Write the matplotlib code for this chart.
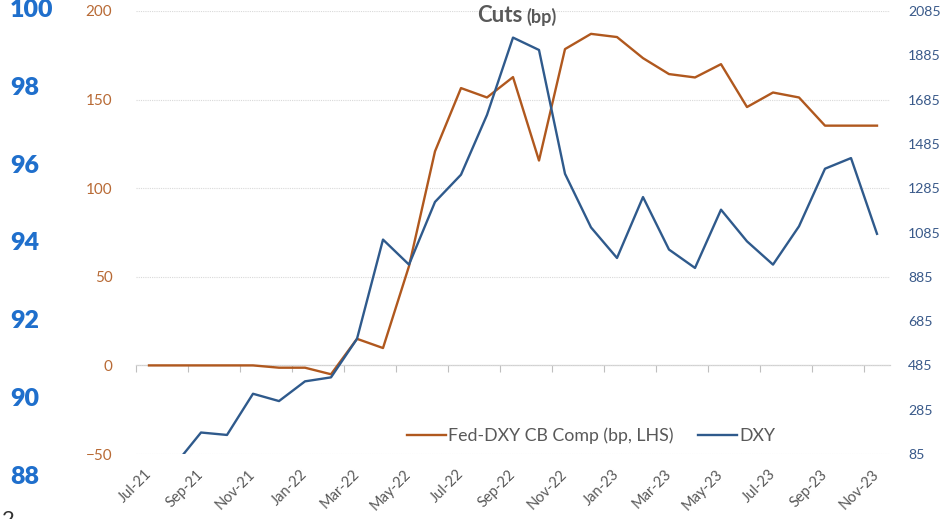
import matplotlib.pyplot as plt
import numpy as np
import pandas as pd
from matplotlib.lines import Line2D

plt.rcParams['font.family'] = ['Lato', 'DejaVu Sans']

# data
months = list(pd.date_range('2021-07-01', periods=29, freq='MS').strftime('%b-%y'))
fed_dxy_comp = [0, 0, 0, 0, 0, -1.3, -1.3, -5, 15, 9.8,
                56, 120.8, 156.5, 151.2, 162.7, 115.6, 178.5, 187.1, 185.3, 173.4,
                164.4, 162.5, 170, 145.8, 154, 151.2, 135.3, 135.3, 135.3]
dxy = [-100, 37, 182, 171, 357, 324, 413, 431, 605, 1053,
       940, 1223, 1346, 1616, 1965, 1909, 1350, 1108, 970, 1245,
       1008, 925, 1188, 1045, 940, 1113, 1373, 1421, 1079]
left_ticks = [-50, 0, 50, 100, 150, 200]
right_ticks = list(range(85, 2086, 200))
far_left_ticks = [88, 90, 92, 94, 96, 98, 100]

ORANGE = '#B0581E'
BLUE = '#2F5A8C'
W, H = 943, 519

fig = plt.figure(figsize=(W / 100, H / 100), dpi=100)

# far left blue scale (fragment of a neighbouring chart)
ax3 = fig.add_axes([60 / W, (H - 475) / H, 10 / W, 467 / H])
ax3.set_ylim(88, 100)
ax3.set_yticks(far_left_ticks)
ax3.set_frame_on(False)
ax3.xaxis.set_visible(False)
ax3.tick_params(axis='y', length=0, pad=36, labelsize=18, labelcolor='#1F6FCC')
for lab in ax3.get_yticklabels():
    lab.set_ha('left')
    lab.set_fontweight('heavy')

# main axes
ax = fig.add_axes([136 / W, (H - 454) / H, 754 / W, 443 / H])
x = np.arange(len(months))
ax.plot(x, fed_dxy_comp, color=ORANGE, lw=1.7, zorder=3)
ax.set_xlim(-0.5, len(months) - 0.5)
ax.set_ylim(-50, 200)
ax.set_yticks(left_ticks)
ax.tick_params(axis='y', length=0, pad=17, labelsize=11, labelcolor='#B86A35')
ax.yaxis.grid(True, color='#D9D9D9', ls=(0, (1, 1)), lw=0.8)
ax.set_axisbelow(True)
for s in ax.spines.values():
    s.set_visible(False)

# category labels at the bottom
ax.set_xticks(x[::2])
ax.set_xticklabels(months[::2], rotation=45, ha='right', va='center',
                   rotation_mode='anchor', fontsize=10.5, color='#595959')
ax.tick_params(axis='x', length=0, pad=13)

# category axis crossing at 0 with tick marks between categories
sec = ax.secondary_xaxis(50 / 250)
sec.set_xticks(np.arange(-0.5, len(months), 2))
sec.set_xticklabels([])
sec.tick_params(axis='x', length=5, color='#BFBFBF', width=0.8)
sec.spines['bottom'].set_color('#D0D0D0')
sec.spines['bottom'].set_linewidth(0.9)

ax2 = ax.twinx()
ax2.plot(x, dxy, color=BLUE, lw=1.7, zorder=3)
ax2.set_ylim(85, 2085)
ax2.set_yticks(right_ticks)
ax2.tick_params(axis='y', length=0, pad=13, labelsize=10.2, labelcolor='#3A5A8A')
for s in ax2.spines.values():
    s.set_visible(False)

# title
fig.text(477 / W, 1 - 16 / H, 'Cuts', fontsize=16, fontweight='bold',
         color='#595959', ha='left', va='center')
fig.text(526 / W, 1 - 17 / H, '(bp)', fontsize=13, fontweight='bold',
         color='#595959', ha='left', va='center')

handles = [Line2D([], [], color=ORANGE, lw=1.7),
           Line2D([], [], color=BLUE, lw=1.7)]
fig.legend(handles, ['Fed-DXY CB Comp (bp, LHS)', 'DXY'], loc='center',
           bbox_to_anchor=(591 / W, 1 - 436 / H), ncol=2, frameon=False,
           fontsize=12.8, handlelength=2.2, handletextpad=0.1, columnspacing=1.4,
           labelcolor='#595959')

# cropped character at the bottom left
fig.text(2 / W, 1 - 510 / H, '2', fontsize=16, color='#333333', ha='left', va='top')

fig.savefig('out.png', dpi=100)
